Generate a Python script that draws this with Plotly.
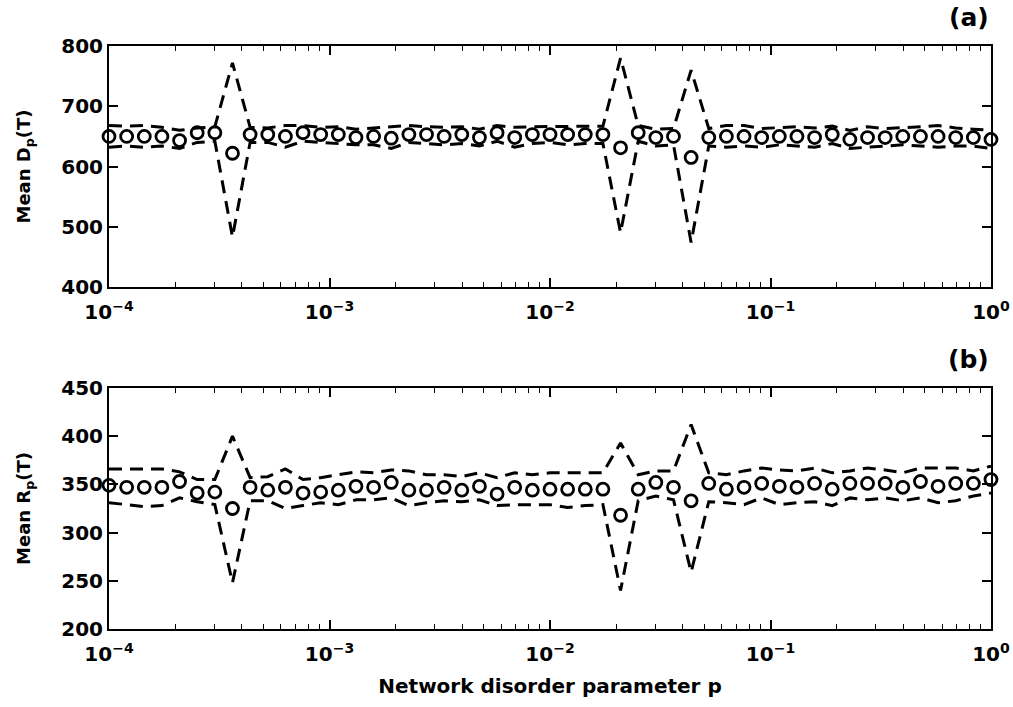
import plotly.graph_objects as go

# disorder parameter p: 51 log-spaced samples from 1e-4 to 1
p_exp = [-4 + 0.08 * k for k in range(51)]
p = [10 ** e for e in p_exp]

D_mean = [650, 650, 650, 650, 643, 656, 656, 622, 653, 653,
          650, 656, 653, 653, 648, 650, 647, 653, 653, 650,
          653, 648, 656, 648, 653, 653, 653, 653, 653, 631,
          656, 648, 650, 615, 648, 650, 650, 648, 650, 650,
          648, 653, 645, 648, 648, 650, 650, 650, 648, 648, 645]
D_upper = [668, 667, 668, 665, 660, 664, 666, 772, 665, 664,
           668, 668, 665, 666, 662, 664, 666, 668, 666, 665,
           666, 662, 668, 665, 666, 666, 667, 666, 667, 780,
           668, 662, 663, 760, 663, 668, 668, 663, 665, 666,
           664, 667, 660, 666, 663, 664, 666, 668, 664, 662, 660]
D_lower = [632, 634, 632, 634, 630, 640, 642, 483, 640, 640,
           632, 642, 640, 638, 636, 636, 630, 640, 638, 636,
           638, 634, 642, 632, 638, 640, 636, 638, 638, 490,
           642, 634, 636, 474, 634, 632, 634, 632, 636, 634,
           632, 638, 630, 632, 634, 636, 634, 632, 634, 634, 630]

R_mean = [349, 347, 347, 347, 353, 341, 342, 325, 347, 344,
          347, 341, 342, 344, 348, 347, 352, 344, 344, 347,
          344, 348, 340, 347, 344, 345, 345, 345, 345, 318,
          345, 352, 347, 333, 351, 345, 347, 351, 348, 347,
          351, 345, 351, 351, 351, 347, 353, 348, 351, 351, 355]
R_upper = [366, 366, 366, 366, 363, 355, 355, 400, 357, 358,
           366, 355, 357, 360, 363, 362, 365, 364, 360, 360,
           358, 362, 357, 362, 360, 362, 362, 362, 362, 393,
           360, 364, 364, 412, 362, 360, 364, 367, 365, 364,
           367, 362, 364, 367, 365, 362, 367, 367, 367, 364, 369]
R_lower = [331, 329, 327, 328, 336, 332, 329, 248, 333, 333,
           325, 328, 331, 329, 334, 334, 336, 328, 331, 333,
           332, 334, 328, 329, 329, 329, 326, 328, 329, 240,
           333, 338, 334, 259, 332, 331, 329, 336, 329, 331,
           332, 328, 336, 334, 336, 333, 336, 331, 333, 338, 341]

x_tickvals = [1e-4, 1e-3, 1e-2, 1e-1, 1]
x_ticktext = ["10<sup>−4</sup>", "10<sup>−3</sup>", "10<sup>−2</sup>",
              "10<sup>−1</sup>", "10<sup>0</sup>"]
x_minor = [m * 10 ** d for d in (-4, -3, -2, -1) for m in range(2, 10)]
D_ticks = [400, 500, 600, 700, 800]
R_ticks = [200, 250, 300, 350, 400, 450]

FONT = "DejaVu Sans"

fig = go.Figure()

def add_panel(xa, ya, mean, up, lo):
    for band in (up, lo):
        fig.add_trace(go.Scatter(x=p, y=band, mode="lines", xaxis=xa, yaxis=ya,
                                 line=dict(color="black", width=3, dash="13px,8px"),
                                 hoverinfo="skip", showlegend=False))
    fig.add_trace(go.Scatter(x=p, y=mean, mode="markers", xaxis=xa, yaxis=ya,
                             cliponaxis=False,
                             marker=dict(symbol="circle-open", size=12, color="black",
                                         line=dict(width=2.8, color="black")),
                             showlegend=False))

add_panel("x", "y", D_mean, D_upper, D_lower)
add_panel("x2", "y2", R_mean, R_upper, R_lower)

tickfont = dict(family=FONT, size=20, color="black", weight="bold")
main_ax = dict(showline=True, linecolor="black", linewidth=2, mirror="allticks",
               ticks="inside", tickcolor="black", tickwidth=1.5, ticklen=9,
               showgrid=False, zeroline=False, tickfont=tickfont, automargin=False)
minor = dict(tickmode="array", tickvals=x_minor, ticks="inside", ticklen=5,
             tickwidth=1, tickcolor="black", showgrid=False)
x_main = dict(type="log", range=[-4, 0], tickmode="array", tickvals=x_tickvals,
              ticktext=x_ticktext, ticklabelstandoff=6, minor=minor, **main_ax)

title_font = dict(family=FONT, size=18, color="black", weight="bold")

fig.update_layout(
    width=1013, height=707, plot_bgcolor="white", paper_bgcolor="white",
    margin=dict(l=109, r=22, t=46, b=78), showlegend=False,
    xaxis=dict(anchor="y", domain=[0, 1], **x_main),
    yaxis=dict(anchor="x", domain=[0.5866, 1], range=[400, 800], tickmode="array",
               tickvals=D_ticks,
               title=dict(text="Mean D<sub>p</sub>(T)", standoff=26, font=title_font),
               **main_ax),
    xaxis2=dict(anchor="y2", domain=[0, 1],
                title=dict(text="Network disorder parameter p", standoff=14,
                           font=dict(family=FONT, size=20, color="black", weight="bold")),
                **x_main),
    yaxis2=dict(anchor="x2", domain=[0, 0.4134], range=[200, 450], tickmode="array",
                tickvals=R_ticks,
                title=dict(text="Mean R<sub>p</sub>(T)", standoff=26, font=title_font),
                **main_ax),
)

fig.add_annotation(text="(a)", xref="paper", yref="paper", x=1.0, y=1.0,
                   xanchor="right", yanchor="bottom", showarrow=False, yshift=12,
                   font=dict(family=FONT, size=25, color="black", weight="bold"))
fig.add_annotation(text="(b)", xref="paper", yref="paper", x=1.0, y=0.4134,
                   xanchor="right", yanchor="bottom", showarrow=False, yshift=12,
                   font=dict(family=FONT, size=25, color="black", weight="bold"))

fig.write_html("out.html")
